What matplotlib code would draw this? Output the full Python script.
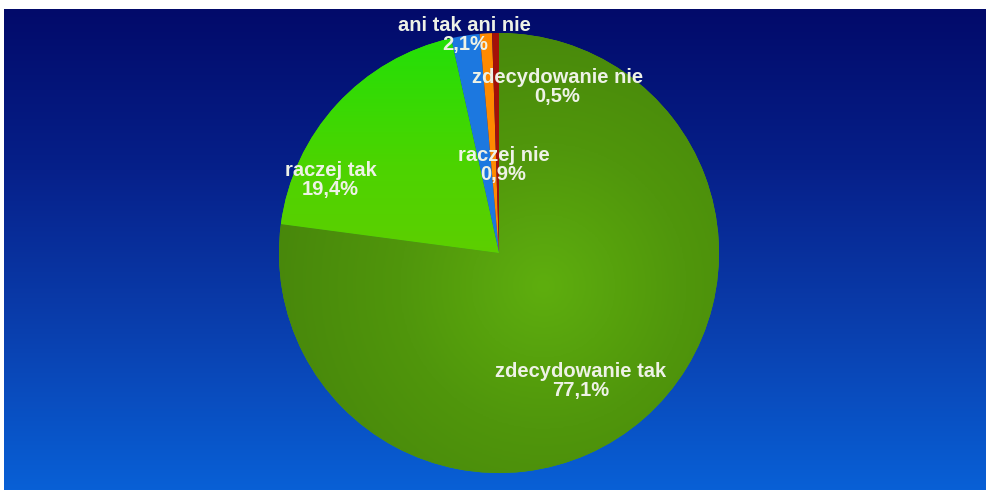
import numpy as np
import matplotlib
matplotlib.use("Agg")
import matplotlib.pyplot as plt
from matplotlib.colors import LinearSegmentedColormap

# survey answers, clockwise from 12 o'clock
labels = ["zdecydowanie tak", "raczej tak", "ani tak ani nie", "raczej nie", "zdecydowanie nie"]
shares = [77.1, 19.4, 2.1, 0.9, 0.5]
pct_text = ["77,1%", "19,4%", "2,1%", "0,9%", "0,5%"]

colors = ["#559e0c", "#44d800", "#1c78e0", "#ff8a00", "#a41008"]

# label centres in pie units (radius = 1)
label_pos = [(0.37, -0.58), (-0.765, 0.33), (-0.155, 0.99), (0.02, 0.40), (0.265, 0.755)]

W, H, DPI = 986, 495, 100
fig = plt.figure(figsize=(W / DPI, H / DPI), dpi=DPI, facecolor="white")

# background panel with vertical gradient
bg = fig.add_axes([4 / W, 5 / H, 982 / W, 481 / H])
bg_cmap = LinearSegmentedColormap.from_list(
    "bg", ["#0860d6", "#0a3fae", "#06208a", "#020a6a"])
grad = np.linspace(0, 1, 256).reshape(-1, 1)
bg.imshow(grad, aspect="auto", cmap=bg_cmap, origin="lower", extent=[0, 1, 0, 1])
bg.set_axis_off()

# pie axes: centre (499, 253) px, radius 220 px
cx, cy, r = 499, 253, 220
ax = fig.add_axes([(cx - r) / W, (H - cy - r) / H, 2 * r / W, 2 * r / H])
wedges, _ = ax.pie(shares, colors=colors, startangle=90, counterclock=False,
                   radius=1, wedgeprops=dict(linewidth=0))
ax.set_aspect("equal")
ax.set_axis_off()

# radial shading on the big slice
yy, xx = np.mgrid[-1:1:300j, -1:1:300j]
dist = np.hypot(xx - 0.2, yy + 0.15)
big_cmap = LinearSegmentedColormap.from_list("big", ["#5eae0e", "#50960c", "#47860b"])
im = ax.imshow(dist, cmap=big_cmap, extent=[-1, 1, -1, 1], origin="lower",
               vmin=0, vmax=1.3, zorder=2)
im.set_clip_path(wedges[0])

# vertical shading on "raczej tak"
lt_cmap = LinearSegmentedColormap.from_list("lt", ["#66cc00", "#4cd400", "#22e008"])
im2 = ax.imshow(np.linspace(0, 1, 200).reshape(-1, 1), cmap=lt_cmap,
                extent=[-1, 0.1, -0.2, 1], origin="lower", aspect="auto", zorder=2)
im2.set_clip_path(wedges[1])
ax.set_xlim(-1, 1)
ax.set_ylim(-1, 1)

for name, pct, (lx, ly) in zip(labels, pct_text, label_pos):
    ax.text(lx, ly, f"{name}\n{pct}", ha="center", va="center", color="#eef2e6",
            fontsize=14.5, fontweight="bold", family="Liberation Sans",
            linespacing=1.0, zorder=5)

fig.savefig("out.png", dpi=DPI, facecolor="white")
